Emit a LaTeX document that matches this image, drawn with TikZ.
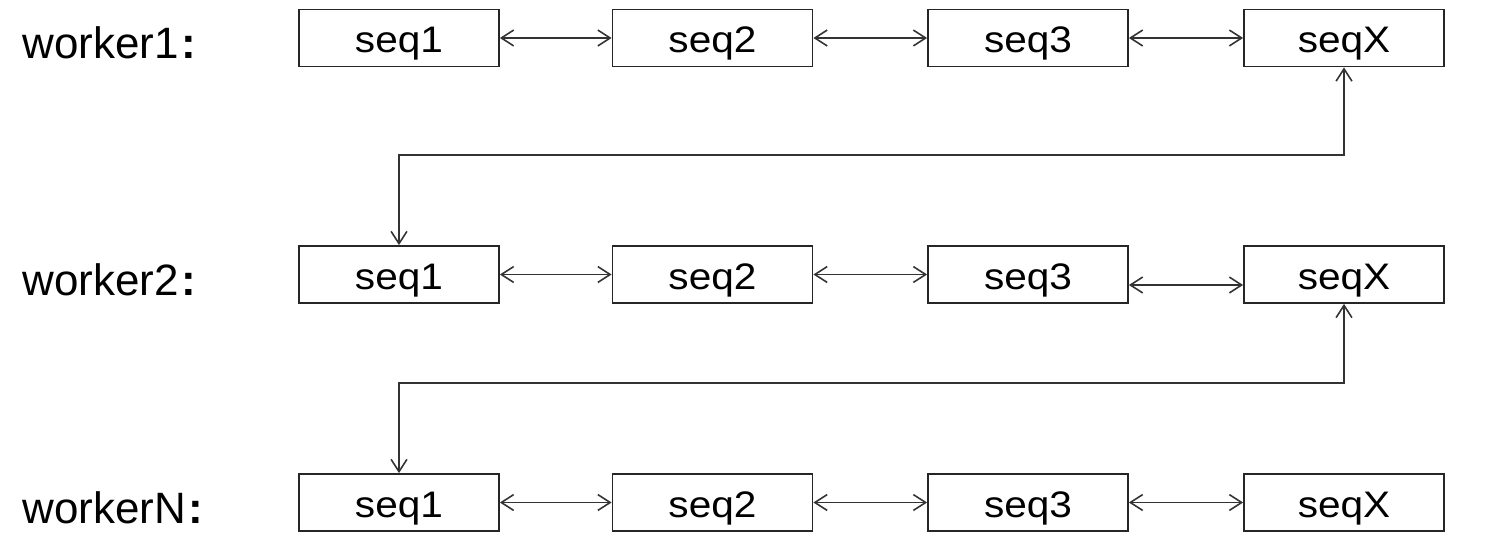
\documentclass[tikz,border=0pt]{standalone}
\usepackage{fontspec}
\setmainfont{Liberation Sans}
\newfontfamily\seqfont{Liberation Sans}[FakeStretch=1.1]
\usetikzlibrary{arrows.meta}
\tikzset{
    seqbox/.style={draw=black!85, line width=1pt, minimum width=4cm, minimum height=1.14cm, inner sep=0pt, text height=0.6cm, text depth=0cm, font=\seqfont\fontsize{21}{25}\selectfont},
    worker/.style={anchor=base west, inner sep=0pt, font=\fontsize{25}{30}\selectfont},
    link/.style={draw=black!80, line width=0.9pt, {Straight Barb[length=7pt,width=9pt]}-{Straight Barb[length=7pt,width=9pt]}}
}
\begin{document}
\begin{tikzpicture}
    \useasboundingbox (0,0) rectangle (29.76,-11.12);

    % Worker 1
    \node[worker] (w1) at (0.44,-1.17) {worker1\hspace{1.5pt}\textbf{:}};
    \node[seqbox] (r1a) at (7.98,-0.76) {seq1};
    \node[seqbox] (r1b) at (14.25,-0.76) {seq2};
    \node[seqbox] (r1c) at (20.56,-0.76) {seq3};
    \node[seqbox] (r1x) at (26.88,-0.76) {seqX};

    % Worker 2
    \node[worker] (w2) at (0.44,-5.90) {worker2\hspace{1.5pt}\textbf{:}};
    \node[seqbox] (r2a) at (7.98,-5.49) {seq1};
    \node[seqbox] (r2b) at (14.25,-5.49) {seq2};
    \node[seqbox] (r2c) at (20.56,-5.49) {seq3};
    \node[seqbox] (r2x) at (26.88,-5.49) {seqX};

    % Worker N
    \node[worker] (wn) at (0.44,-10.46) {workerN\hspace{1.5pt}\textbf{:}};
    \node[seqbox] (r3a) at (7.98,-10.05) {seq1};
    \node[seqbox] (r3b) at (14.25,-10.05) {seq2};
    \node[seqbox] (r3c) at (20.56,-10.05) {seq3};
    \node[seqbox] (r3x) at (26.88,-10.05) {seqX};

    % Links in a row
    \draw[link] (r1a) -- (r1b);
    \draw[link] (r1b) -- (r1c);
    \draw[link] (r1c) -- (r1x);
    \draw[link] (r2a) -- (r2b);
    \draw[link] (r2b) -- (r2c);
    \draw[link] ([yshift=-0.21cm]r2c.east) -- ([yshift=-0.21cm]r2x.west);
    \draw[link] (r3a) -- (r3b);
    \draw[link] (r3b) -- (r3c);
    \draw[link] (r3c) -- (r3x);

    % Links between workers
    \coordinate (bend1) at (0,-3.1);
    \coordinate (bend2) at (0,-7.66);
    \draw[link] (r2a.north) -- (r2a.north |- bend1) -- (r1x.south |- bend1) -- (r1x.south);
    \draw[link] (r3a.north) -- (r3a.north |- bend2) -- (r2x.south |- bend2) -- (r2x.south);

\end{tikzpicture}
\end{document}
